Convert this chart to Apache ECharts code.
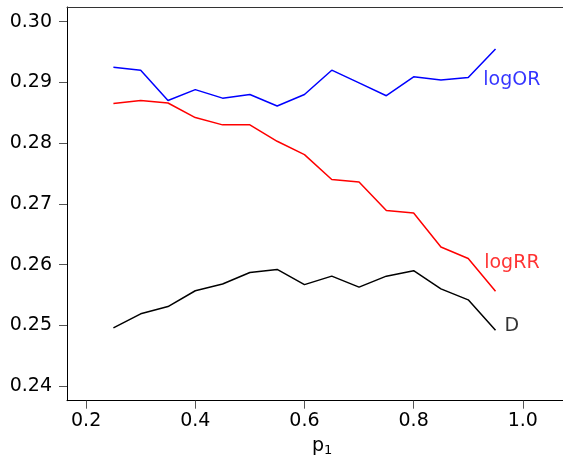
<!DOCTYPE html>
<html>
<head>
<meta charset="utf-8">
<script src="https://cdn.jsdelivr.net/npm/echarts@6/dist/echarts.min.js"></script>
<style>
html,body{margin:0;padding:0;background:#fff;}
#chart{width:563px;height:460px;}
</style>
</head>
<body>
<div id="chart"></div>
<script>
const p1 = [0.25,0.30,0.35,0.40,0.45,0.50,0.55,0.60,0.65,0.70,0.75,0.80,0.85,0.90,0.95];
const logOR = [0.2925,0.2920,0.2870,0.2888,0.2874,0.2880,0.2861,0.2880,0.2920,0.2899,0.2878,0.2909,0.2904,0.2908,0.2955];
const logRR = [0.2865,0.2870,0.2866,0.2842,0.2830,0.2830,0.2803,0.2781,0.2740,0.2736,0.2689,0.2685,0.2629,0.2610,0.2556];
const D = [0.2496,0.2519,0.2531,0.2557,0.2568,0.2587,0.2592,0.2567,0.2581,0.2563,0.2581,0.2590,0.2560,0.2542,0.2492];
const xTicks = [0.2,0.4,0.6,0.8,1.0];
const yTicks = [0.24,0.25,0.26,0.27,0.28,0.29,0.30];
const labelTexts = ['logOR','logRR','D'];
const labelX = [0.98,0.98,0.98];
const labelY = [0.2904,0.2603,0.2499];
const colors = ['#0000ff','#ff0000','#000000'];

const FONT = 'DejaVu Sans';
const FS = 19;
const chart = echarts.init(document.getElementById('chart'));
const mk = (vals) => p1.map((x,i)=>[x, vals[i]]);
chart.setOption({
  animation:false,
  backgroundColor:'#fff',
  grid:{left:67, top:7, bottom:59.3, right:-14.4, outerBoundsMode:'none', show:false, containLabel:false},
  xAxis:[{
    type:'value', min:0.165, max:1.1,
    axisLine:{show:true, onZero:false, lineStyle:{color:'#000', width:1}},
    axisTick:{show:true, length:8, customValues:xTicks, lineStyle:{color:'#555', width:1}},
    axisLabel:{show:true, customValues:xTicks, margin:11, color:'#000', fontFamily:FONT, fontSize:FS, formatter:v=>v.toFixed(1)},
    splitLine:{show:false},
    name:'p{s|1}', nameLocation:'middle', nameGap:35,
    nameTextStyle:{color:'#000', fontFamily:FONT, fontSize:FS, rich:{s:{fontFamily:FONT, fontSize:13, color:'#000', verticalAlign:'bottom', padding:[8,0,0,0]}}}
  },{
    type:'value', position:'top', min:0.165, max:1.1,
    axisLine:{show:true, onZero:false, lineStyle:{color:'#333', width:1}},
    axisTick:{show:false}, axisLabel:{show:false}, splitLine:{show:false}
  }],
  yAxis:{
    type:'value', min:0.2376, max:0.3024,
    axisLine:{show:true, onZero:false, lineStyle:{color:'#000', width:1}},
    axisTick:{show:true, length:8, customValues:yTicks, lineStyle:{color:'#555', width:1}},
    axisLabel:{show:true, customValues:yTicks, margin:15, color:'#000', fontFamily:FONT, fontSize:FS, formatter:v=>v.toFixed(2)},
    splitLine:{show:false}
  },
  series:[
    {type:'line', data:mk(logOR), showSymbol:false, symbol:'none', lineStyle:{color:colors[0], width:1.5}, itemStyle:{color:colors[0]}},
    {type:'line', data:mk(logRR), showSymbol:false, symbol:'none', lineStyle:{color:colors[1], width:1.5}, itemStyle:{color:colors[1]}},
    {type:'line', data:mk(D), showSymbol:false, symbol:'none', lineStyle:{color:colors[2], width:1.5}, itemStyle:{color:colors[2]}},
    {type:'scatter', symbolSize:0, silent:true,
     data:labelTexts.map((t,i)=>({value:[labelX[i], labelY[i]], name:t,
       label:{show:true, position:'inside', formatter:t, color:colors[i], fontFamily:FONT, fontSize:FS}}))}
  ]
});
</script>
</body>
</html>
